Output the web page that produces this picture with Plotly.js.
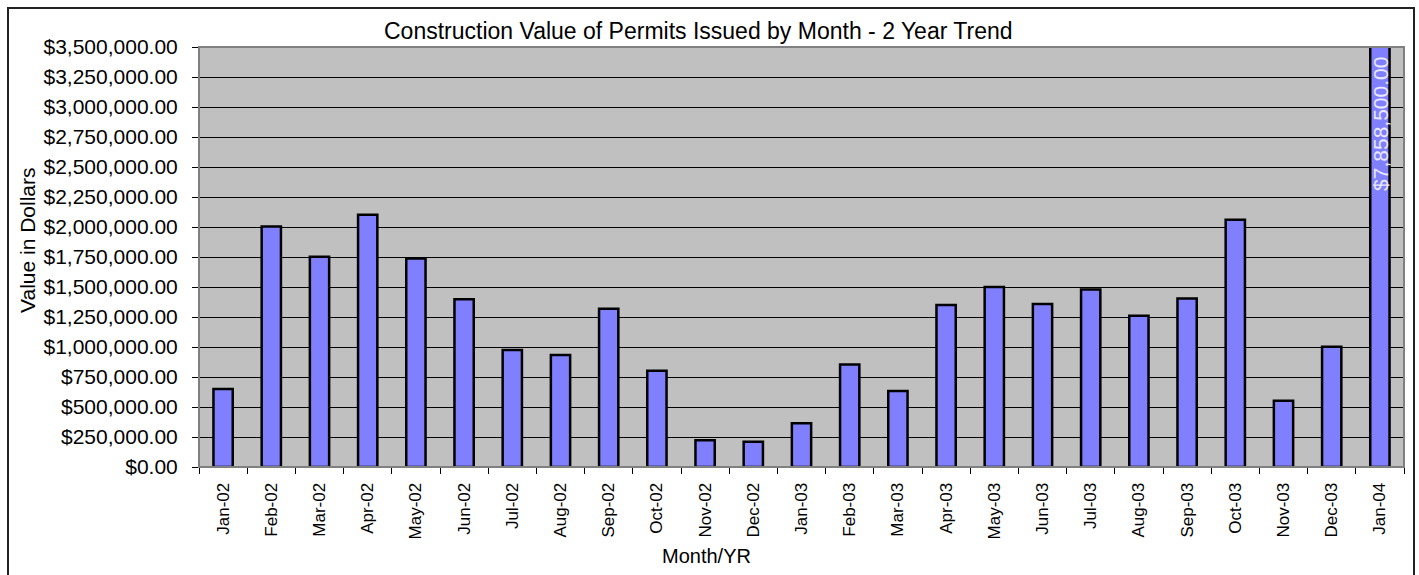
<!DOCTYPE html>
<html>
<head>
<meta charset="utf-8">
<script src="https://cdn.plot.ly/plotly-3.0.1.min.js"></script>
<style>html,body{margin:0;padding:0;background:#fff;}#chart{width:1419px;height:575px;}</style>
</head>
<body>
<div id="chart"></div>
<script>
const months = ["Jan-02","Feb-02","Mar-02","Apr-02","May-02","Jun-02","Jul-02","Aug-02","Sep-02","Oct-02","Nov-02","Dec-02",
                "Jan-03","Feb-03","Mar-03","Apr-03","May-03","Jun-03","Jul-03","Aug-03","Sep-03","Oct-03","Nov-03","Dec-03","Jan-04"];
const values = [650000, 2005000, 1753000, 2102000, 1738000, 1397000, 975000, 933000, 1319000, 802000, 222000, 211000,
                364000, 855000, 633000, 1350000, 1500000, 1358000, 1480000, 1261000, 1405000, 2061000, 552000, 1002000, 7858500];
const yTickValues = [0,250000,500000,750000,1000000,1250000,1500000,1750000,2000000,2250000,2500000,2750000,3000000,3250000,3500000];
const chartTitle = "Construction Value of Permits Issued by Month - 2 Year Trend";
const xTitle = "Month/YR";
const yTitle = "Value in Dollars";
const axisMax = 3500000;

function fmtMoney(v){
  return "$" + v.toLocaleString("en-US",{minimumFractionDigits:2, maximumFractionDigits:2});
}

const FONT = "Liberation Sans, Arial, sans-serif";
const L = 199, R = 1404, T = 47, B = 467, W = 1419, H = 575;
const px = x => (x - L) / (R - L);
const py = y => (B - y) / (B - T);

const trace = {
  type: "bar",
  x: months,
  y: values,
  marker: {color: "#8080ff", line: {color: "#000000", width: 2.5}},
  hoverinfo: "x+y"
};

// labels for bars that run off the top of the scale
const overLabels = values.map((v, i) => ({v, i})).filter(o => o.v > axisMax).map(o => ({
  text: fmtMoney(o.v), xref: "x", yref: "paper", x: months[o.i], y: py(55),
  xanchor: "center", yanchor: "top", textangle: -90, showarrow: false,
  font: {family: FONT, size: 21, color: "#e8e8ff"}
}));

const layout = {
  width: W, height: H,
  margin: {l: L, r: W - R, t: T, b: H - B, pad: 0},
  paper_bgcolor: "#ffffff",
  plot_bgcolor: "#c0c0c0",
  showlegend: false,
  bargap: 0.6,
  font: {family: FONT, color: "#000"},
  xaxis: {
    type: "category",
    tickangle: -90,
    tickfont: {family: FONT, size: 17, color: "#000"},
    ticks: "outside", ticklen: 6, tickcolor: "#000", tickwidth: 1,
    tickson: "boundaries",
    showline: true, linecolor: "#000", linewidth: 1,
    showgrid: false, zeroline: false,
    ticklabelstandoff: 8
  },
  yaxis: {
    range: [0, axisMax],
    tickvals: yTickValues,
    tickformat: "$,.2f",
    tickfont: {family: FONT, size: 21, color: "#000"},
    ticks: "outside", ticklen: 6, tickcolor: "#000", tickwidth: 1,
    showline: true, linecolor: "#000", linewidth: 1,
    showgrid: true, gridcolor: "#000", gridwidth: 1,
    zeroline: false,
    ticklabelstandoff: 10
  },
  shapes: [
    {type: "rect", xref: "paper", yref: "paper", x0: 0, x1: 1, y0: 0, y1: 1,
     line: {color: "#808080", width: 2}, fillcolor: "rgba(0,0,0,0)", layer: "above"},
    {type: "rect", xref: "paper", yref: "paper", x0: px(8), x1: px(1414), y0: py(590), y1: py(8),
     line: {color: "#222", width: 2}, fillcolor: "rgba(0,0,0,0)"}
  ],
  annotations: [
    {text: chartTitle, xref: "paper", yref: "paper", x: px(698), y: py(31),
     xanchor: "center", yanchor: "middle", showarrow: false, font: {family: FONT, size: 23, color: "#000"}},
    {text: xTitle, xref: "paper", yref: "paper", x: px(706), y: py(556),
     xanchor: "center", yanchor: "middle", showarrow: false, font: {family: FONT, size: 20, color: "#000"}},
    {text: yTitle, xref: "paper", yref: "paper", x: px(27), y: py(240), textangle: -90,
     xanchor: "center", yanchor: "middle", showarrow: false, font: {family: FONT, size: 21, color: "#000"}}
  ].concat(overLabels)
};

Plotly.newPlot("chart", [trace], layout, {displayModeBar: false, staticPlot: true});
</script>
</body>
</html>
